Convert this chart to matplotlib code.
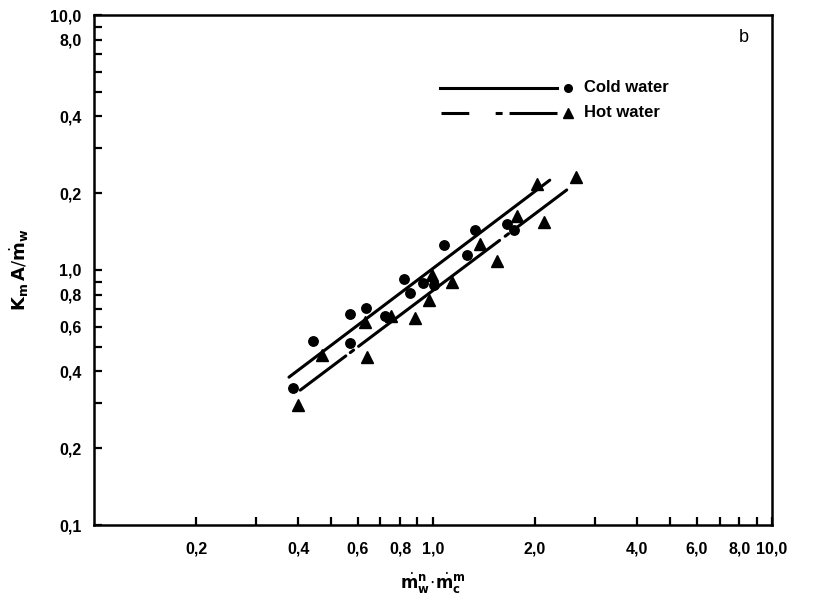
import matplotlib
matplotlib.use('Agg')
import matplotlib.pyplot as plt
from matplotlib.ticker import FixedLocator, FixedFormatter, NullFormatter

plt.rcParams['font.family'] = ['Liberation Sans', 'DejaVu Sans']
plt.rcParams['lines.scale_dashes'] = False

# measured points
cold_x = [0.386, 0.443, 0.569, 0.569, 0.634, 0.72, 0.821, 0.855, 0.936, 1.01,
          1.077, 1.257, 1.33, 1.656, 1.735]
cold_y = [0.344, 0.528, 0.672, 0.519, 0.708, 0.66, 0.919, 0.810, 0.89, 0.87,
          1.253, 1.15, 1.435, 1.511, 1.435]
hot_x = [0.401, 0.470, 0.630, 0.640, 0.75, 0.885, 0.97, 0.99, 1.136, 1.376,
         1.54, 1.766, 2.02, 2.125, 2.65]
hot_y = [0.295, 0.464, 0.627, 0.457, 0.66, 0.647, 0.763, 0.956, 0.895, 1.27,
         1.085, 1.633, 2.168, 1.538, 2.32]

# correlation lines
cold_fit_x = [0.376, 2.21]
cold_fit_y = [0.38, 2.25]
hot_fit_x = [0.406, 2.48]
hot_fit_y = [0.338, 2.06]

xticks_major = [0.2, 0.4, 0.6, 0.8, 1.0, 2.0, 4.0, 6.0, 8.0, 10.0]
xtick_labels = ['0,2', '0,4', '0,6', '0,8', '1,0', '2,0', '4,0', '6,0', '8,0', '10,0']
yticks_major = [0.1, 0.2, 0.4, 0.6, 0.8, 1.0, 2.0, 4.0, 6.0, 8.0, 10.0]
ytick_labels = ['0,1', '0,2', '0,4', '0,6', '0,8', '1,0', '0,2', '0,4', '', '8,0', '10,0']
ticks_minor = [0.3, 0.5, 0.7, 0.9, 3.0, 5.0, 7.0, 9.0]

plotLinewidth = 2.2
tickfont = 11.5

fig = plt.figure(figsize=(8.13, 6.0), dpi=100)
ax = fig.add_axes([0.1156, 0.125, 0.834, 0.85])

ax.plot(cold_fit_x, cold_fit_y, color='k', linewidth=plotLinewidth,
        solid_capstyle='round')
ax.plot(hot_fit_x, hot_fit_y, color='k', linewidth=plotLinewidth,
        dashes=[41, 4, 3, 4.5, 127, 5, 3, 6, 60], dash_capstyle='round')
ax.plot(cold_x, cold_y, 'o', color='k', markersize=6.8, linestyle='none')
ax.plot(hot_x, hot_y, '^', color='k', markersize=8.5, linestyle='none')

# key drawn in axes fraction
ax.plot([0.510, 0.683], [0.857, 0.857], color='k', linewidth=plotLinewidth,
        transform=ax.transAxes)
ax.plot([0.699], [0.857], 'o', color='k', markersize=5.5, transform=ax.transAxes)
ax.text(0.722, 0.857, 'Cold water', transform=ax.transAxes, fontsize=12,
        fontweight='bold', va='center', ha='left')
ax.plot([0.512, 0.683], [0.808, 0.808], color='k', linewidth=plotLinewidth,
        dashes=[20, 19, 5, 5, 40], transform=ax.transAxes)
ax.plot([0.699], [0.808], '^', color='k', markersize=6.5, transform=ax.transAxes)
ax.text(0.722, 0.808, 'Hot water', transform=ax.transAxes, fontsize=12,
        fontweight='bold', va='center', ha='left')

ax.text(0.958, 0.955, 'b', transform=ax.transAxes, fontsize=13,
        va='center', ha='center')

ax.set_xscale('log')
ax.set_yscale('log')
ax.set_xlim(0.1, 10.0)
ax.set_ylim(0.1, 10.0)

ax.xaxis.set_major_locator(FixedLocator(xticks_major))
ax.xaxis.set_major_formatter(FixedFormatter(xtick_labels))
ax.xaxis.set_minor_locator(FixedLocator(ticks_minor))
ax.xaxis.set_minor_formatter(NullFormatter())
ax.yaxis.set_major_locator(FixedLocator(yticks_major))
ax.yaxis.set_major_formatter(FixedFormatter(ytick_labels))
ax.yaxis.set_minor_locator(FixedLocator(ticks_minor))
ax.yaxis.set_minor_formatter(NullFormatter())

ax.tick_params(which='both', direction='in', top=False, right=False,
               width=1.6, labelsize=tickfont)
ax.tick_params(which='major', length=6)
ax.tick_params(which='minor', length=6)
ax.tick_params(axis='x', which='major', pad=12)
ax.tick_params(axis='y', which='major', pad=9)
for lab in ax.get_xticklabels() + ax.get_yticklabels():
    lab.set_fontweight('bold')
for s in ax.spines.values():
    s.set_linewidth(1.8)

ax.set_xlabel(r'$\dot{\mathbf{m}}_{\mathbf{w}}^{\mathbf{n}}\!\cdot\!\dot{\mathbf{m}}_{\mathbf{c}}^{\mathbf{m}}$',
              fontsize=12, labelpad=10)
ax.set_ylabel(r'$\mathbf{K}_{\mathbf{m}}\,\mathbf{A}/\dot{\mathbf{m}}_{\mathbf{w}}$',
              fontsize=13, labelpad=14)

fig.savefig('out.png', dpi=100)
